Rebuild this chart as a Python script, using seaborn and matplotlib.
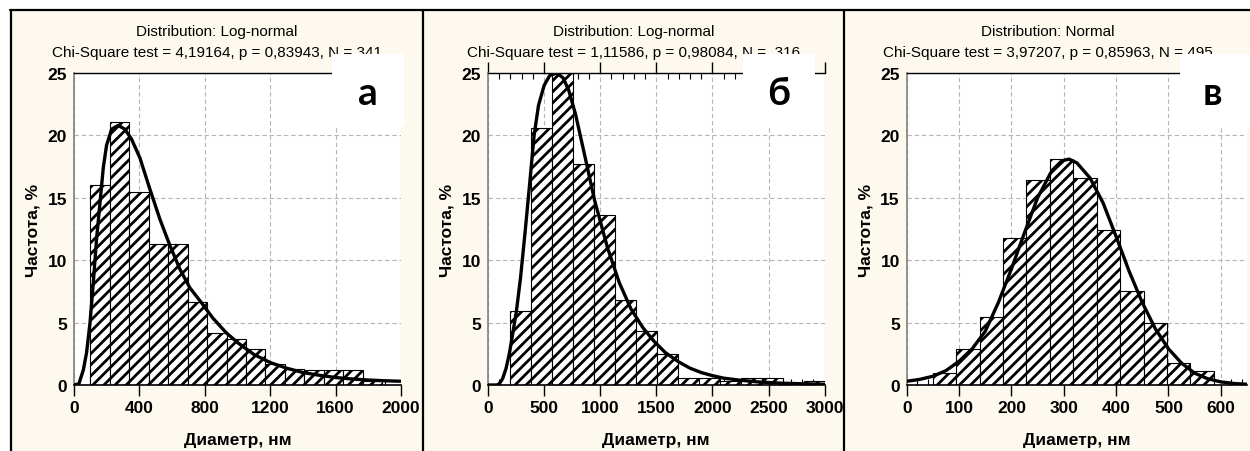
import numpy as np
import pandas as pd
import matplotlib
matplotlib.use("Agg")
import matplotlib.pyplot as plt
from matplotlib.patches import Rectangle
from matplotlib.lines import Line2D
from matplotlib.ticker import MultipleLocator
import seaborn as sns

# ---------------- data ----------------
titles = ["Distribution: Log-normal", "Distribution: Log-normal", "Distribution: Normal"]
stats = ["Chi-Square test = 4,19164, p = 0,83943, N = 341",
         "Chi-Square test = 1,11586, p = 0,98084, N =  316",
         "Chi-Square test = 3,97207, p = 0,85963, N = 495"]
letters = ["а", "б", "в"]

edges_a = [100, 219, 338, 457, 576, 695, 814, 933, 1052, 1171, 1290, 1409, 1528, 1647, 1766, 1885]
heights_a = [16.0, 21.1, 15.5, 11.3, 11.3, 6.65, 4.15, 3.7, 2.9, 1.7, 1.25, 1.2, 1.2, 1.2, 0.35]
curve_ax = [0, 30, 57, 77, 98, 118, 138, 159, 179, 199, 230, 271, 311, 352, 403, 464, 525, 586,
            647, 708, 779, 850, 930, 1000, 1100, 1200, 1300, 1400, 1500, 1600, 1700, 1800, 1900, 2000]
curve_ay = [0.0, 0.1, 1.2, 2.6, 5.0, 8.2, 11.7, 14.6, 17.4, 19.2, 20.5, 20.8, 20.5, 19.7, 18.2, 15.7,
            13.3, 11.2, 9.3, 7.8, 6.6, 5.35, 4.2, 3.4, 2.45, 1.8, 1.35, 1.0, 0.78, 0.6, 0.48, 0.4, 0.34, 0.3]

edges_b = [200, 387, 574, 761, 948, 1135, 1322, 1509, 1696, 1883, 2070, 2257, 2444, 2631, 2818, 3005]
heights_b = [5.95, 20.6, 25.0, 17.7, 13.6, 6.85, 4.35, 2.45, 0.6, 0.6, 0.35, 0.6, 0.6, 0.0, 0.3]
curve_bx = [0, 80, 100, 130, 160, 190, 220, 253, 290, 330, 370, 411, 450, 500, 550, 613, 670, 720,
            780, 857, 950, 1065, 1170, 1274, 1380, 1480, 1580, 1700, 1800, 1900, 2000, 2100, 2250,
            2400, 2600, 2800, 3000]
curve_by = [0.0, 0.0, 0.1, 0.5, 1.3, 2.5, 4.1, 5.9, 8.6, 12.2, 16.0, 20.0, 22.4, 24.0, 24.8, 25.0,
            24.6, 23.6, 21.7, 18.6, 14.8, 11.0, 8.2, 6.1, 4.6, 3.5, 2.6, 1.85, 1.35, 1.0, 0.75, 0.55,
            0.38, 0.25, 0.15, 0.1, 0.06]

edges_c = [49.5, 94.3, 139.1, 183.9, 228.6, 273.4, 318.2, 363.0, 407.7, 452.5, 497.3, 542.0, 586.8]
heights_c = [1.0, 2.85, 5.45, 11.8, 16.4, 18.1, 16.6, 12.4, 7.5, 5.0, 1.75, 1.1]
curve_cx = [0, 25, 50, 75, 100, 125, 150, 175, 200, 225, 250, 275, 300, 310, 325, 350, 375, 400,
            425, 450, 475, 500, 525, 550, 575, 600, 625, 650]
curve_cy = [0.3, 0.45, 0.7, 1.15, 1.9, 2.9, 4.3, 6.6, 9.3, 12.2, 15.0, 17.0, 18.0, 18.1, 17.8, 16.6,
            14.6, 11.9, 9.1, 6.6, 4.5, 2.9, 1.75, 0.95, 0.5, 0.25, 0.12, 0.06]

xticks_a = [0, 400, 800, 1200, 1600, 2000]
xticks_b = [0, 500, 1000, 1500, 2000, 2500, 3000]
xticks_c = [0, 100, 200, 300, 400, 500, 600]
yticks = [0, 5, 10, 15, 20, 25]

xlabel = "Диаметр, нм"
ylabel = "Частота, %"

# ---------------- styling ----------------
sns.set_theme(style="white")
plt.rcParams["font.family"] = ["Liberation Sans Narrow", "Liberation Sans", "DejaVu Sans"]
plt.rcParams["hatch.linewidth"] = 2.0
for k in ("text.color", "axes.labelcolor", "xtick.color", "ytick.color"):
    plt.rcParams[k] = "black"

W, H = 1250, 452
fig = plt.figure(figsize=(W / 100, H / 100), dpi=100)
fig.patch.set_facecolor("white")

cream = "#fdf9ee"

def fx(px):
    return px / W

def fy(py):
    return 1 - py / H

# panel backgrounds
panel_x = [(12, 422), (424, 843), (845, 1250)]
for x0, x1 in panel_x:
    fig.add_artist(Rectangle((fx(x0), 0), fx(x1 - x0), fy(12), transform=fig.transFigure,
                             facecolor=cream, edgecolor="none", zorder=-5))

# axes geometry (pixels)
axes_px = [(74, 401), (488, 824.6), (906.7, 1247)]
ax_top, ax_bot = 74, 386

panels = [
    (edges_a, heights_a, curve_ax, curve_ay, xticks_a, (0, 2000), 100),
    (edges_b, heights_b, curve_bx, curve_by, xticks_b, (0, 3000), 100),
    (edges_c, heights_c, curve_cx, curve_cy, xticks_c, (0, 650), 20),
]

label_boxes = [(332, 404), (743, 815), (1180, 1250)]

for i, ((l, r), (edges, heights, cx, cy, xt, xlim, minor)) in enumerate(zip(axes_px, panels)):
    ax = fig.add_axes([fx(l), fy(ax_bot), fx(r - l), (ax_bot - ax_top) / H])
    ax.set_facecolor("white")
    e = np.array(edges, dtype=float)
    centers = (e[:-1] + e[1:]) / 2
    df = pd.DataFrame({"x": centers, "w": heights})
    sns.histplot(data=df, x="x", weights="w", bins=edges, ax=ax, stat="count",
                 color="white", edgecolor="black", linewidth=0.8, hatch="///",
                 alpha=1, zorder=2)
    cdf = pd.DataFrame({"x": cx, "y": cy})
    sns.lineplot(data=cdf, x="x", y="y", ax=ax, color="black", linewidth=2.4, zorder=3)

    ax.set_xlim(*xlim)
    ax.set_ylim(0, 25)
    ax.set_xticks(xt)
    ax.set_yticks(yticks)
    ax.xaxis.set_minor_locator(MultipleLocator(minor))
    ax.set_axisbelow(True)
    ax.grid(True, which="major", linestyle=(0, (4, 2.5)), color="#b5b5b5", linewidth=0.8)
    ax.tick_params(axis="x", which="major", direction="out", length=8, width=1,
                   bottom=True, pad=3, labelsize=12.5)
    ax.tick_params(axis="x", which="minor", direction="in", length=4, width=0.8, bottom=True)
    ax.tick_params(axis="y", which="both", length=0, pad=5, labelsize=12.5, left=True)
    if i == 1:
        ax.tick_params(axis="x", which="both", top=True)
    for lab in ax.get_xticklabels() + ax.get_yticklabels():
        lab.set_fontweight("bold")
    ax.spines["right"].set_visible(False)
    ax.spines["left"].set_color("#808080")
    ax.spines["left"].set_linewidth(1.2)
    ax.spines["bottom"].set_color("black")
    ax.spines["bottom"].set_linewidth(1.2)
    ax.spines["top"].set_color("black")
    ax.spines["top"].set_linewidth(1.0)

    ax.set_xlabel(xlabel, fontsize=12.5, fontweight="bold",
                  family=["Liberation Sans", "DejaVu Sans"], labelpad=12)
    ax.set_ylabel(ylabel, fontsize=12.5, fontweight="bold",
                  family=["Liberation Sans", "DejaVu Sans"], labelpad=5)

    # titles (centred on panel)
    pc = (panel_x[i][0] + panel_x[i][1]) / 2
    fig.text(fx(pc), fy(32), titles[i], ha="center", va="center", fontsize=11, zorder=3)
    fig.text(fx(pc), fy(53), stats[i], ha="center", va="center", fontsize=11, zorder=3)

    # white label boxes
    bx0, bx1 = label_boxes[i]
    fig.add_artist(Rectangle((fx(bx0), fy(127)), fx(bx1 - bx0), (127 - 55) / H,
                             transform=fig.transFigure, facecolor="white",
                             edgecolor="none", zorder=6))
    fig.text(fx((bx0 + bx1) / 2 if i < 2 else 1212), fy(105), letters[i], ha="center",
             va="baseline", fontsize=28, fontweight="bold",
             family=["Lato", "Open Sans", "DejaVu Sans"], zorder=7)

# black frame lines
lw = 1.6
fig.add_artist(Line2D([fx(10), 1], [fy(11), fy(11)], transform=fig.transFigure,
                      color="black", linewidth=lw, zorder=8))
for xv in (11, 423, 844):
    fig.add_artist(Line2D([fx(xv), fx(xv)], [0, fy(11)], transform=fig.transFigure,
                          color="black", linewidth=lw, zorder=8))

fig.savefig("out.png", dpi=100, facecolor="white")
